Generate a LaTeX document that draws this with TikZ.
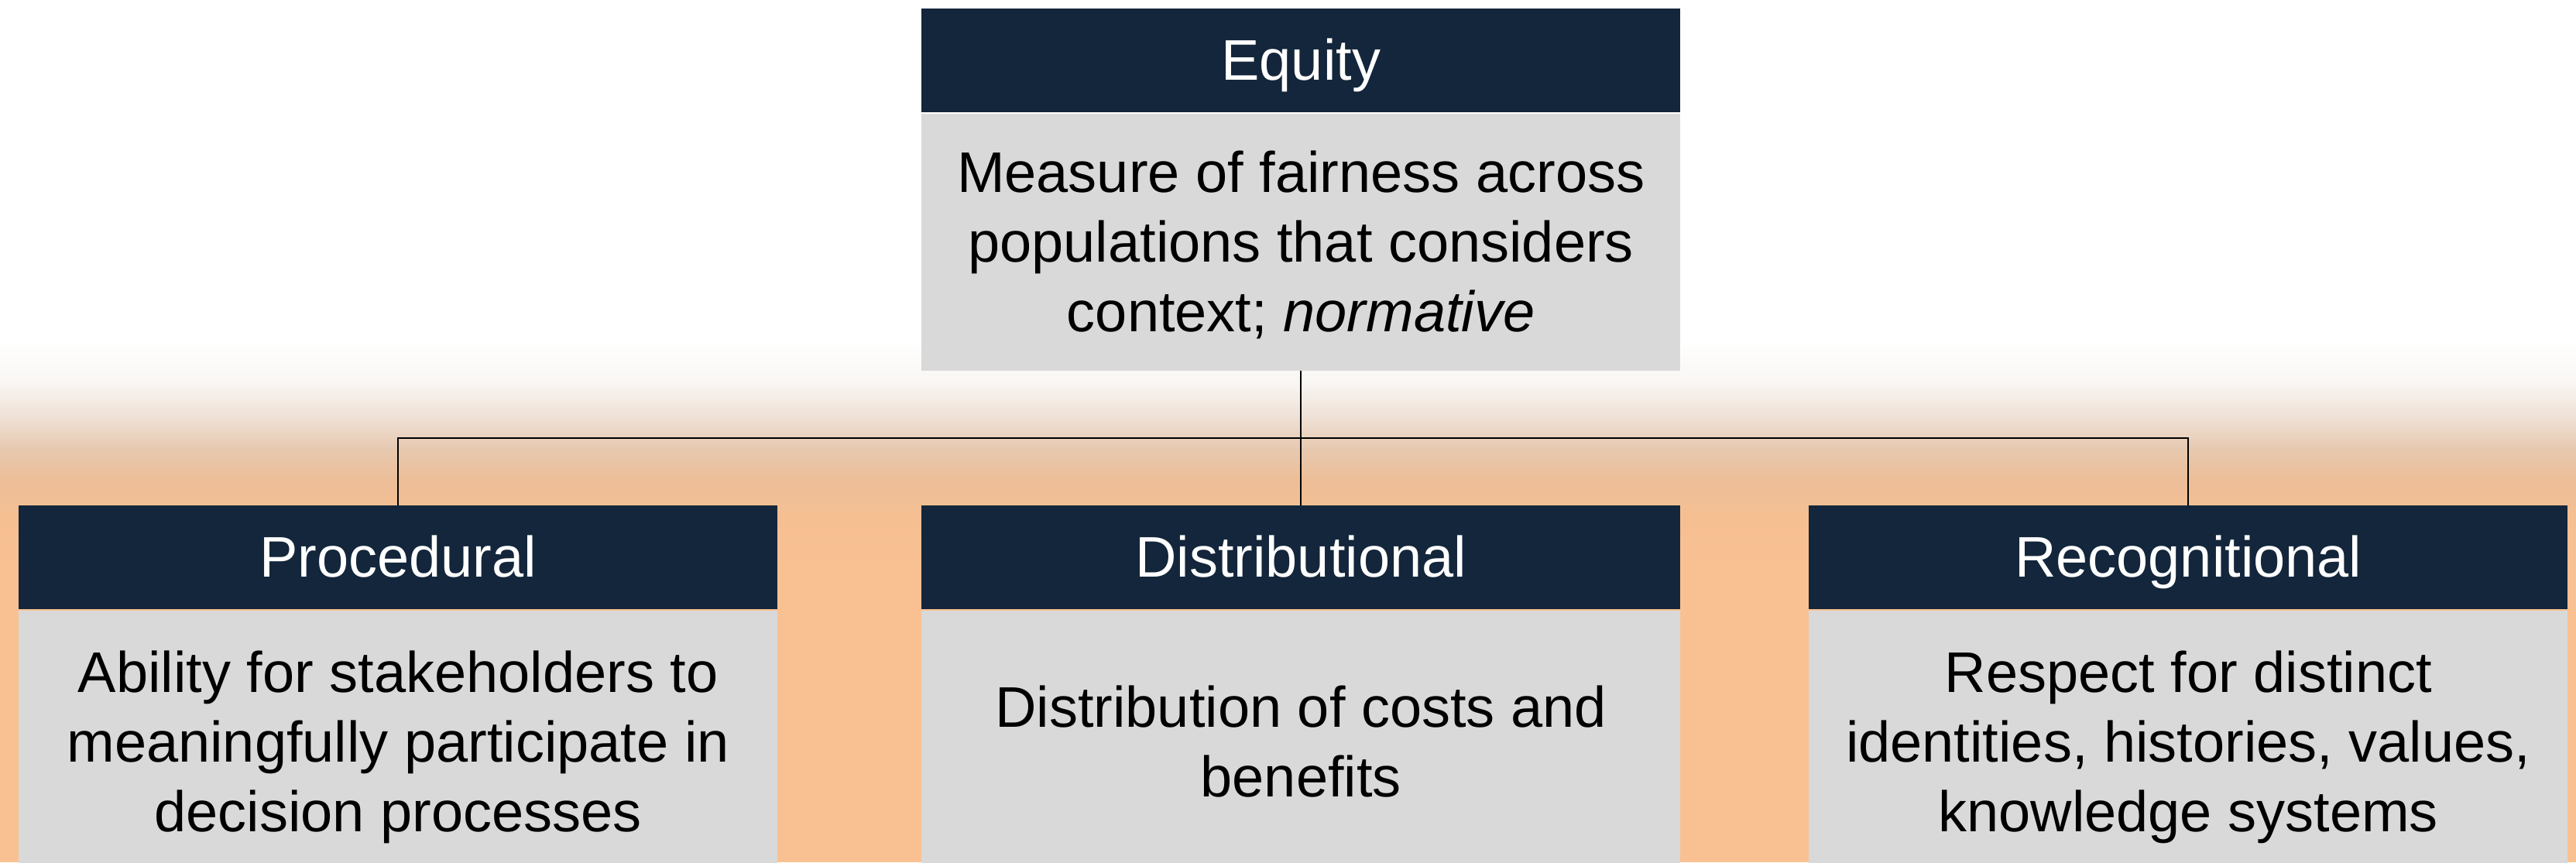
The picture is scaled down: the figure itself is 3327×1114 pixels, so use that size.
\documentclass[tikz,border=0pt]{standalone}
\usepackage{fontspec}
\setmainfont{Liberation Sans}
\definecolor{navy}{HTML}{13263B}
\definecolor{boxgray}{HTML}{D9D9D9}
\definecolor{peach}{HTML}{F9C192}
\newcommand\lsfstrut{\rule[-0.212em]{0pt}{1.117em}}
\begin{document}
\begin{tikzpicture}[x=1pt,y=-1pt,
  hdr/.style={fill=navy, text=white, minimum width=980pt, minimum height=134pt,
    inner sep=0pt, anchor=north west, font=\fontsize{74}{90}\selectfont},
  bdy/.style={fill=boxgray, text=black, minimum width=980pt, minimum height=340pt,
    inner sep=0pt, anchor=north west, align=center, font=\fontsize{74}{90}\selectfont},
  link/.style={draw=black, line width=1.6pt}]
\useasboundingbox (0,0) rectangle (3327,1114);
\clip (0,0) rectangle (3327,1114);

% background: white top fading into a peach lower band
\fill[white] (0,0) rectangle (3327,1114);
\shade[top color=white, bottom color={rgb,255:red,249;green,246;blue,243}] (0,440) rectangle (3327,495);
\shade[top color={rgb,255:red,249;green,246;blue,243}, bottom color={rgb,255:red,238;green,223;blue,211}] (0,494.5) rectangle (3327,542);
\shade[top color={rgb,255:red,238;green,223;blue,211}, bottom color={rgb,255:red,231;green,201;blue,176}] (0,541.5) rectangle (3327,580);
\shade[top color={rgb,255:red,231;green,201;blue,176}, bottom color={rgb,255:red,236;green,190;blue,152}] (0,579.5) rectangle (3327,620);
\shade[top color={rgb,255:red,236;green,190;blue,152}, bottom color={rgb,255:red,246;green,191;blue,146}] (0,619.5) rectangle (3327,670);
\shade[top color={rgb,255:red,246;green,191;blue,146}, bottom color=peach] (0,669.5) rectangle (3327,740);
\fill[peach] (0,739.5) rectangle (3327,1114);

% top box
\node[hdr] (equityH) at (1190,11) {\lsfstrut Equity};
\node[bdy, minimum height=332pt] (equityB) at (1190,147)
  {\lsfstrut Measure of fairness across\\ \lsfstrut populations that considers\\ \lsfstrut context; \textit{normative}};

% three lower boxes
\node[hdr] (procH) at (24,653) {\lsfstrut Procedural};
\node[bdy] (procB) at (24,789)
  {\lsfstrut Ability for stakeholders to\\ \lsfstrut meaningfully participate in\\ \lsfstrut decision processes};

\node[hdr] (distH) at (1190,653) {\lsfstrut Distributional};
\node[bdy] (distB) at (1190,789)
  {\lsfstrut Distribution of costs and\\ \lsfstrut benefits};

\node[hdr] (recH) at (2336,653) {\lsfstrut Recognitional};
\node[bdy] (recB) at (2336,789)
  {\lsfstrut Respect for distinct\\ \lsfstrut identities, histories, values,\\ \lsfstrut knowledge systems};

% connectors
\coordinate (bus) at (1680,566);
\draw[link] (equityB.south) -- (distH.north);
\draw[link] (procH.north) |- (bus) -| (recH.north);
\end{tikzpicture}
\end{document}
